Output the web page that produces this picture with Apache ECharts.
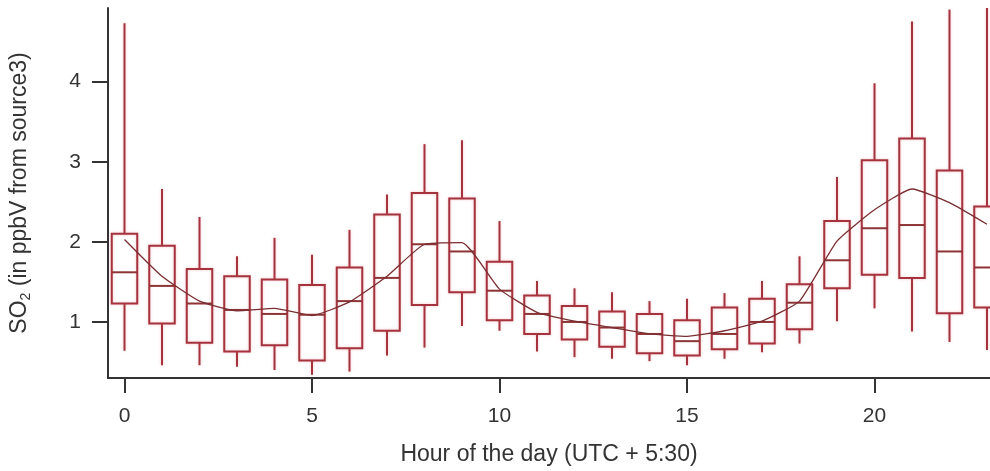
<!DOCTYPE html>
<html>
<head>
<meta charset="utf-8">
<script src="https://cdn.jsdelivr.net/npm/echarts@6/dist/echarts.min.js"></script>
<style>
  html, body { margin: 0; padding: 0; background: #fff; }
  #chart { width: 990px; height: 471px; }
</style>
</head>
<body>
<div id="chart"></div>
<script>
// Hourly SO2 distribution (box = quartiles, whiskers = range) plus smoothed mean
const hours       = [0, 1, 2, 3, 4, 5, 6, 7, 8, 9, 10, 11, 12, 13, 14, 15, 16, 17, 18, 19, 20, 21, 22, 23];
const whiskerLow  = [0.64, 0.46, 0.46, 0.44, 0.40, 0.34, 0.38, 0.58, 0.68, 0.95, 0.89, 0.63, 0.56, 0.54, 0.51, 0.46, 0.54, 0.62, 0.73, 1.01, 1.17, 0.88, 0.75, 0.65];
const quart1      = [1.23, 0.98, 0.74, 0.63, 0.71, 0.52, 0.67, 0.89, 1.21, 1.37, 1.02, 0.85, 0.78, 0.69, 0.61, 0.58, 0.66, 0.73, 0.91, 1.42, 1.59, 1.55, 1.11, 1.18];
const medians     = [1.62, 1.45, 1.23, 1.15, 1.10, 1.09, 1.26, 1.55, 1.97, 1.88, 1.39, 1.10, 1.00, 0.93, 0.85, 0.76, 0.85, 1.00, 1.24, 1.77, 2.17, 2.21, 1.88, 1.68];
const quart3      = [2.10, 1.95, 1.66, 1.57, 1.53, 1.46, 1.68, 2.34, 2.61, 2.54, 1.75, 1.33, 1.20, 1.13, 1.10, 1.02, 1.18, 1.29, 1.47, 2.26, 3.02, 3.29, 2.89, 2.44];
const whiskerHigh = [4.73, 2.66, 2.31, 1.82, 2.05, 1.84, 2.15, 2.59, 3.22, 3.27, 2.26, 1.51, 1.42, 1.37, 1.26, 1.29, 1.36, 1.51, 1.82, 2.81, 3.98, 4.75, 4.90, 5.00];
const smoothed    = [2.03, 1.57, 1.26, 1.14, 1.17, 1.08, 1.25, 1.57, 1.97, 1.99, 1.41, 1.12, 1.01, 0.93, 0.85, 0.82, 0.89, 1.01, 1.26, 2.01, 2.40, 2.66, 2.49, 2.22];
const xTicks = [0, 5, 10, 15, 20];
const yTicks = [1, 2, 3, 4];

const BOX_RED = '#a5333e';
const MEDIAN_RED = '#8e3436';
const AXIS_GREY = '#333333';
const FONT = '"Liberation Sans", Arial, sans-serif';
const BOX_WIDTH = 0.68; // in hours

const boxData = hours.map((h, i) => [h, whiskerLow[i], quart1[i], medians[i], quart3[i], whiskerHigh[i]]);
const lineData = hours.map((h, i) => [h, smoothed[i]]);

function renderBox(params, api) {
  const h = api.value(0);
  const lo = api.coord([h, api.value(1)]);
  const q1 = api.coord([h, api.value(2)]);
  const md = api.coord([h, api.value(3)]);
  const q3 = api.coord([h, api.value(4)]);
  const hi = api.coord([h, api.value(5)]);
  const half = api.size([BOX_WIDTH, 0])[0] / 2;
  const stroke = { stroke: BOX_RED, lineWidth: 2, fill: null,
    shadowColor: 'rgba(230,90,100,0.35)', shadowBlur: 3 };
  return {
    type: 'group',
    children: [
      { type: 'line', shape: { x1: hi[0], y1: hi[1], x2: q3[0], y2: q3[1] }, style: stroke },
      { type: 'line', shape: { x1: q1[0], y1: q1[1], x2: lo[0], y2: lo[1] }, style: stroke },
      { type: 'rect', shape: { x: q3[0] - half, y: q3[1], width: half * 2, height: q1[1] - q3[1] }, style: stroke },
      { type: 'line', shape: { x1: md[0] - half, y1: md[1], x2: md[0] + half, y2: md[1] },
        style: { stroke: MEDIAN_RED, lineWidth: 2 } }
    ]
  };
}

const chart = echarts.init(document.getElementById('chart'), null, { renderer: 'canvas' });
chart.setOption({
  animation: false,
  backgroundColor: '#ffffff',
  grid: { left: 108, right: 0, top: 8, bottom: 92, containLabel: false },
  xAxis: {
    type: 'value',
    min: -0.44,
    max: 23.08,
    name: 'Hour of the day (UTC + 5:30)',
    nameLocation: 'middle',
    nameGap: 65,
    nameTextStyle: { fontFamily: FONT, fontSize: 23, color: AXIS_GREY },
    axisLine: { show: true, onZero: false, lineStyle: { color: AXIS_GREY, width: 2 } },
    axisTick: { show: true, inside: false, length: 15, customValues: xTicks, lineStyle: { color: AXIS_GREY, width: 2 } },
    axisLabel: { customValues: xTicks, margin: 28, fontFamily: FONT, fontSize: 21, color: AXIS_GREY },
    splitLine: { show: false }
  },
  yAxis: {
    type: 'value',
    min: 0.30,
    max: 4.92,
    name: '{a|SO}{sub|2}{a| (in ppbV from source3)}',
    nameLocation: 'middle',
    nameGap: 75,
    nameTextStyle: {
      color: AXIS_GREY,
      rich: {
        a: { fontFamily: FONT, fontSize: 23, lineHeight: 26, color: AXIS_GREY },
        sub: { fontFamily: FONT, fontSize: 14, lineHeight: 14, verticalAlign: 'bottom', color: AXIS_GREY }
      }
    },
    axisLine: { show: true, onZero: false, lineStyle: { color: AXIS_GREY, width: 2 } },
    axisTick: { show: true, inside: false, length: 16, customValues: yTicks, lineStyle: { color: AXIS_GREY, width: 2 } },
    axisLabel: { customValues: yTicks, margin: 27, fontFamily: FONT, fontSize: 21, color: AXIS_GREY },
    splitLine: { show: false }
  },
  series: [
    {
      type: 'custom',
      name: 'SO2 hourly distribution',
      renderItem: renderBox,
      clip: true,
      encode: { x: 0, y: [1, 2, 3, 4, 5] },
      data: boxData,
      z: 2
    },
    {
      type: 'line',
      name: 'Smoothed',
      data: lineData,
      smooth: 0.15,
      showSymbol: false,
      symbol: 'none',
      clip: true,
      lineStyle: { color: '#7a2e32', width: 1.3 },
      z: 3
    }
  ]
});
</script>
</body>
</html>
